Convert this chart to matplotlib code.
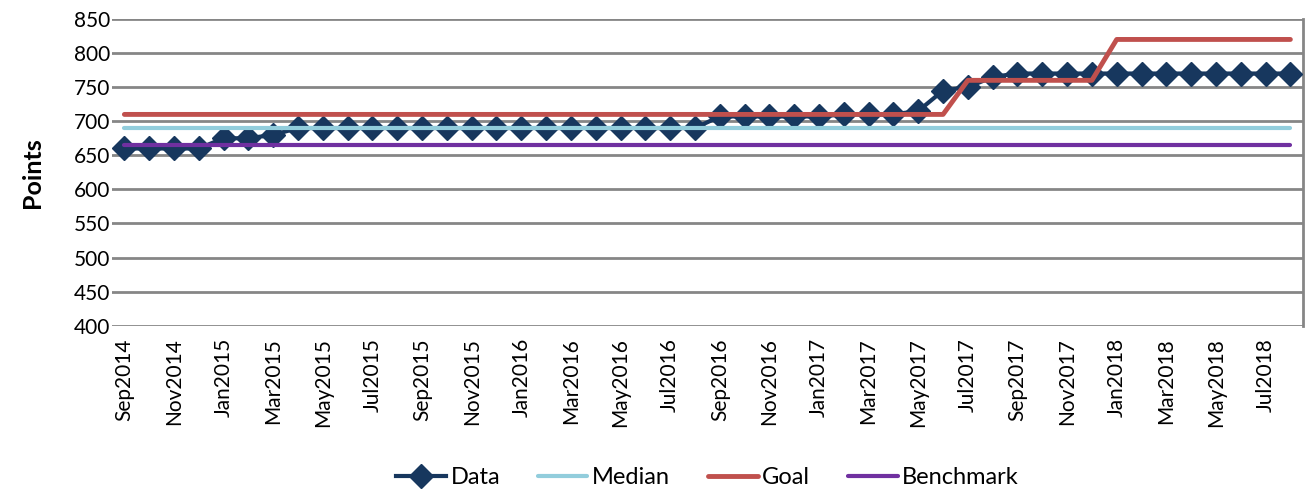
import pandas as pd
import numpy as np
import matplotlib.pyplot as plt

plt.rcParams['font.family'] = ['Lato', 'DejaVu Sans']

# monthly values Sep2014 .. Aug2018
months = pd.date_range('2014-09-01', periods=48, freq='MS').strftime('%b%Y').tolist()

data = [660, 660, 660, 660, 675, 675, 680,
        690, 690, 690, 690, 690, 690, 690, 690, 690, 690, 690, 690, 690, 690, 690, 690, 690,
        707, 707, 707, 707, 707, 710, 710, 710, 715,
        745, 750, 765,
        770, 770, 770, 770, 770, 770, 770, 770, 770, 770, 770, 770]
median = [690] * 48
goal = [710] * 34 + [760] * 6 + [820] * 8
benchmark = [665] * 48

x = np.arange(len(months))

fig = plt.figure(figsize=(13.08, 4.91), dpi=100)
ax = fig.add_axes([0.0856, 0.3367, 0.9104, 0.6246])

ax.plot(x, data, color='#17375E', lw=3, marker='D', markersize=12.5, label='Data', zorder=3)
ax.plot(x, median, color='#92CDDC', lw=3, solid_capstyle='round', label='Median', zorder=4)
ax.plot(x, goal, color='#C0504D', lw=3.5, solid_capstyle='round', label='Goal', zorder=4)
ax.plot(x, benchmark, color='#7030A0', lw=3, solid_capstyle='round', label='Benchmark', zorder=4)

ax.set_xlim(-0.5, len(months) - 0.5)
ax.set_ylim(400, 850)
ax.set_yticks(np.arange(400, 851, 50))
ax.set_xticks(x[::2])
ax.set_xticklabels(months[::2], rotation=90)
ax.tick_params(axis='both', length=0, labelsize=15, colors='black')
ax.tick_params(axis='x', pad=9)
ax.tick_params(axis='y', pad=1)
ax.grid(axis='y', color='#868686', lw=2)
ax.set_axisbelow(True)
for s in ['left', 'top', 'bottom']:
    ax.spines[s].set_visible(False)
ax.spines['right'].set_color('#868686')
ax.spines['right'].set_linewidth(2)

ax.set_ylabel('Points', fontsize=18, fontweight='bold', labelpad=22)

fig.legend(loc='center', bbox_to_anchor=(0.541, 0.027), ncol=4, frameon=False,
           fontsize=17, handlelength=2.1, handletextpad=0.2, columnspacing=1.6)

fig.savefig('out.png', dpi=100)
